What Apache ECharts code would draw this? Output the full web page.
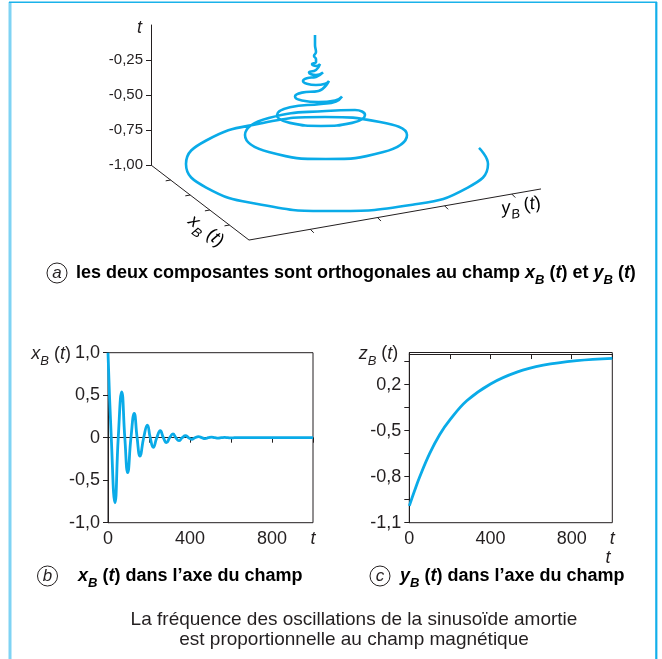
<!DOCTYPE html>
<html><head><meta charset="utf-8">
<script src="https://cdn.jsdelivr.net/npm/echarts@6/dist/echarts.min.js"></script>
<style>html,body{margin:0;padding:0;background:#fff}#c{width:662px;height:659px}</style>
</head><body><div id="c"></div>
<script>
// ---------- Panel a : projected helix (u = horizontal projected coordinate, t = vertical axis) ----------
const helixPoints = [
  [1.64,-0.071],[1.64,-0.143],[1.65,-0.193],[1.63,-0.221],[1.65,-0.243],
  [1.65,-0.264],[1.61,-0.279],[1.65,-0.293],[1.69,-0.279],
  [1.65,-0.321],[1.58,-0.339],[1.65,-0.357],[1.72,-0.339],
  [1.65,-0.371],[1.558,-0.380],[1.52,-0.400],[1.558,-0.420],[1.65,-0.429],[1.742,-0.420],[1.78,-0.400],
  [1.675,-0.471],[1.509,-0.483],[1.44,-0.511],[1.509,-0.539],[1.675,-0.550],[1.841,-0.539],[1.91,-0.511],[1.85,-0.546],
  [1.70,-0.564],[1.389,-0.587],[1.26,-0.643],[1.389,-0.699],[1.70,-0.721],[2.011,-0.699],[2.14,-0.643],[2.04,-0.607],
  [1.75,-0.614],[1.177,-0.664],[0.94,-0.786],[1.177,-0.907],[1.75,-0.957],[2.323,-0.907],[2.56,-0.786],[2.29,-0.693],
  [1.74,-0.657],[1.105,-0.702],[0.552,-0.825],[0.35,-0.993],[0.552,-1.161],[1.105,-1.284],[1.79,-1.329],[2.615,-1.284],[3.168,-1.161],[3.37,-0.993],[3.28,-0.878]
];
const tTickValues = [-1, -0.75, -0.5, -0.25];
const tTickLabels = ['-1,00', '-0,75', '-0,50', '-0,25'];
const floorOrigin = [0, -1];
const xBAxisEnd = [0.98, -1.536];
const yBAxisEnd = [3.90, -1.171];
const xBTickFractions = [0.2, 0.4, 0.6, 0.8];
const yBTickFractions = [0.21, 0.44, 0.67, 0.9];

// ---------- Panel b : x_B(t) ----------
const bTimes  = [0,16,34,50,67,82,96,112,128,142,156,174,192,206,221,238,255,270,285,301,317,331,346,362,378,393,408,424,441,457,473,489,505,521,537,553,569,585,601,617,633,650,1000];
const bValues = [1.0,0,-0.765,0,0.54,0,-0.41,0,0.287,0,-0.215,0,0.149,0,-0.113,0,0.082,0,-0.059,0,0.044,0,-0.035,0,0.024,0,-0.019,0,0.013,0,-0.01,0,0.007,0,-0.005,0,0.004,0,-0.003,0,0.002,0,0];
const bYTickValues = [-1, -0.5, 0, 0.5, 1];
const bYTickLabels = ['-1,0', '-0,5', '0', '0,5', '1,0'];
const xTickValues = [0, 200, 400, 600, 800, 1000];
const xLabelValues = [0, 400, 800, 1000];
const xLabelTexts = ['0', '400', '800', '{it|t}'];

// ---------- Panel c : z_B(t) ----------
const cTimes  = [0,25,50,100,150,200,283,400,530,660,825,1000];
const cValues = [-0.99,-0.895,-0.805,-0.65,-0.525,-0.43,-0.305,-0.195,-0.118,-0.073,-0.043,-0.028];
const cYTickValues = [-1.1,-0.95,-0.8,-0.65,-0.5,-0.35,-0.2,-0.05];
const cYLabelValues = [-1.1, -0.8, -0.5, -0.2];
const cYLabelTexts = ['-1,1', '-0,8', '-0,5', '0,2'];

// ---------- build ----------
const FONT = "'Liberation Sans', Arial, sans-serif";
const INK = '#231f20';
const CURVE = '#0aabe8';

function richSet(size, weight) {
  return {
    n: {fontSize: size, fontFamily: FONT, fontWeight: weight, color: INK, lineHeight: 28, verticalAlign: 'middle'},
    i: {fontSize: size, fontFamily: FONT, fontWeight: weight, fontStyle: 'italic', color: INK, lineHeight: 28, verticalAlign: 'middle'},
    s: {fontSize: Math.round(size * 0.72), fontFamily: FONT, fontWeight: weight, fontStyle: 'italic', color: INK, lineHeight: 28, verticalAlign: 'bottom'},
    it: {fontSize: size, fontFamily: FONT, fontStyle: 'italic', color: INK}
  };
}
const symName = (v) => '{i|' + v + '}{s|B}{n| (}{i|t}{n|)}';

function lerp(a, b, f) { return [a[0] + (b[0] - a[0]) * f, a[1] + (b[1] - a[1]) * f]; }
const xBTickDir = [-0.049, -0.006];
const yBTickDir = [0.035, -0.025];
const floorLines = [
  {coords: [[0, 0], floorOrigin]},
  {coords: [floorOrigin, xBAxisEnd]},
  {coords: [xBAxisEnd, yBAxisEnd]}
];
xBTickFractions.forEach(f => { const p = lerp(floorOrigin, xBAxisEnd, f); floorLines.push({coords: [p, [p[0] + xBTickDir[0], p[1] + xBTickDir[1]]]}); });
yBTickFractions.forEach(f => { const p = lerp(xBAxisEnd, yBAxisEnd, f); floorLines.push({coords: [p, [p[0] + yBTickDir[0], p[1] + yBTickDir[1]]]}); });

const labelStyle = {fontFamily: FONT, fontSize: 18, color: INK};
const axisLineStyle = {lineStyle: {color: INK, width: 1}};

const option = {
  animation: false,
  backgroundColor: '#fff',
  grid: [
    {left: 151, top: 25, width: 10, height: 140},
    {left: 151, top: 25, width: 420, height: 224},
    {left: 108, top: 352.7, width: 205, height: 170, show: true, borderColor: INK, borderWidth: 1},
    {left: 409.3, top: 352.5, width: 203, height: 170.2, show: true, borderColor: INK, borderWidth: 1}
  ],
  xAxis: [
    {gridIndex: 0, type: 'value', show: false, min: 0, max: 1},
    {gridIndex: 1, type: 'value', show: false, min: 0, max: 4.2},
    {gridIndex: 2, type: 'value', min: 0, max: 1000, splitLine: {show: false}, axisLine: axisLineStyle,
      axisTick: {customValues: xTickValues, length: 5, lineStyle: {color: INK}},
      axisLabel: {customValues: xLabelValues, margin: 7, ...labelStyle, rich: richSet(18, 'normal'),
        formatter: v => xLabelTexts[xLabelValues.indexOf(v)]}},
    {gridIndex: 3, type: 'value', min: 0, max: 1000, splitLine: {show: false}, axisLine: axisLineStyle,
      axisTick: {customValues: xTickValues, length: 5, lineStyle: {color: INK}},
      axisLabel: {customValues: xLabelValues, margin: 7, ...labelStyle, rich: richSet(18, 'normal'),
        formatter: v => xLabelTexts[xLabelValues.indexOf(v)]}}
  ],
  yAxis: [
    {gridIndex: 0, type: 'value', min: -1, max: 0, splitLine: {show: false}, axisLine: axisLineStyle,
      axisTick: {customValues: tTickValues, length: 5, lineStyle: {color: INK}},
      axisLabel: {customValues: tTickValues, margin: 8, fontFamily: FONT, fontSize: 15, color: INK,
        formatter: v => tTickLabels[tTickValues.indexOf(v)]},
      name: 't', nameLocation: 'end', nameGap: -3, nameMoveOverlap: false,
      nameTextStyle: {fontFamily: FONT, fontSize: 18, fontStyle: 'italic', color: INK, align: 'right', verticalAlign: 'middle', padding: [0, 9, 0, 0]}},
    {gridIndex: 1, type: 'value', show: false, min: -1.6, max: 0},
    {gridIndex: 2, type: 'value', min: -1, max: 1, splitLine: {show: false}, axisLine: axisLineStyle,
      axisTick: {customValues: bYTickValues, length: 5, lineStyle: {color: INK}},
      axisLabel: {customValues: bYTickValues, margin: 8, ...labelStyle,
        formatter: v => bYTickLabels[bYTickValues.indexOf(v)]},
      name: symName('x'), nameLocation: 'end', nameGap: -1, nameMoveOverlap: false,
      nameTextStyle: {align: 'right', verticalAlign: 'middle', padding: [0, 37, 0, 0], rich: richSet(18, 'normal')}},
    {gridIndex: 3, type: 'value', min: -1.1, max: 0.01, splitLine: {show: false}, axisLine: axisLineStyle,
      axisTick: {customValues: cYTickValues, length: 5, lineStyle: {color: INK}},
      axisLabel: {customValues: cYLabelValues, margin: 8, ...labelStyle,
        formatter: v => cYLabelTexts[cYLabelValues.indexOf(v)]},
      name: symName('z'), nameLocation: 'end', nameGap: -1, nameMoveOverlap: false,
      nameTextStyle: {align: 'right', verticalAlign: 'middle', padding: [0, 11, 0, 0], rich: richSet(18, 'normal')}}
  ],
  series: [
    {type: 'lines', coordinateSystem: 'cartesian2d', xAxisIndex: 1, yAxisIndex: 1, silent: true,
      lineStyle: {color: INK, width: 1, opacity: 1}, data: floorLines},
    {type: 'line', xAxisIndex: 1, yAxisIndex: 1, data: helixPoints, smooth: 0.5, symbol: 'none', silent: true,
      lineStyle: {color: CURVE, width: 2.6}},
    {type: 'line', xAxisIndex: 2, yAxisIndex: 2, data: bTimes.map((t, i) => [t, bValues[i]]), smooth: 0.5, symbol: 'none', silent: true,
      lineStyle: {color: CURVE, width: 2.8}},
    {type: 'line', xAxisIndex: 3, yAxisIndex: 3, data: cTimes.map((t, i) => [t, cValues[i]]), smooth: 0.4, symbol: 'none', silent: true,
      lineStyle: {color: CURVE, width: 2.8}}
  ],
  graphic: [
    {type: 'line', shape: {x1: 10, y1: 2, x2: 10, y2: 659}, style: {stroke: '#7fd3f4', lineWidth: 3}},
    {type: 'line', shape: {x1: 9, y1: 2.2, x2: 657, y2: 2.2}, style: {stroke: '#1ab2ea', lineWidth: 1.5}},
    {type: 'line', shape: {x1: 656.3, y1: 2, x2: 656.3, y2: 659}, style: {stroke: '#12afea', lineWidth: 2.2}},
    // second axis name under panel c
    {type: 'text', x: 608, y: 558, style: {text: 't', fontFamily: FONT, fontSize: 18, fontStyle: 'italic', fill: INK, align: 'center', verticalAlign: 'middle'}},
    // x_B / y_B floor axis names
    {type: 'text', x: 206, y: 231, rotation: -0.66, style: {text: symName('x'), rich: richSet(18, 'normal'), align: 'center', verticalAlign: 'middle'}},
    {type: 'text', x: 521, y: 206, rotation: 0.16, style: {text: symName('y'), rich: richSet(18, 'normal'), align: 'center', verticalAlign: 'middle'}},
    // caption a
    {type: 'circle', shape: {cx: 57, cy: 273, r: 10}, style: {fill: 'none', stroke: INK, lineWidth: 1}},
    {type: 'text', x: 57, y: 273, style: {text: 'a', fontFamily: FONT, fontSize: 17, fontStyle: 'italic', fill: INK, align: 'center', verticalAlign: 'middle'}},
    {type: 'text', x: 76, y: 273, style: {text: '{n|les deux composantes sont orthogonales au champ }' + symName('x') + '{n| et }' + symName('y'), rich: richSet(18, 'bold'), align: 'left', verticalAlign: 'middle'}},
    // caption b
    {type: 'circle', shape: {cx: 47.5, cy: 576, r: 10}, style: {fill: 'none', stroke: INK, lineWidth: 1}},
    {type: 'text', x: 47.5, y: 576, style: {text: 'b', fontFamily: FONT, fontSize: 17, fontStyle: 'italic', fill: INK, align: 'center', verticalAlign: 'middle'}},
    {type: 'text', x: 78, y: 576, style: {text: symName('x') + '{n| dans l\u2019axe du champ}', rich: richSet(18, 'bold'), align: 'left', verticalAlign: 'middle'}},
    // caption c
    {type: 'circle', shape: {cx: 380, cy: 576, r: 10}, style: {fill: 'none', stroke: INK, lineWidth: 1}},
    {type: 'text', x: 380, y: 576, style: {text: 'c', fontFamily: FONT, fontSize: 17, fontStyle: 'italic', fill: INK, align: 'center', verticalAlign: 'middle'}},
    {type: 'text', x: 400, y: 576, style: {text: symName('y') + '{n| dans l\u2019axe du champ}', rich: richSet(18, 'bold'), align: 'left', verticalAlign: 'middle'}},
    // bottom note
    {type: 'text', x: 354, y: 630, style: {text: 'La fréquence des oscillations de la sinusoïde amortie\nest proportionnelle au champ magnétique', fontFamily: FONT, fontSize: 19, lineHeight: 20, fill: INK, align: 'center', verticalAlign: 'middle'}}
  ]
};
const chart = echarts.init(document.getElementById('c'), null, {renderer: 'canvas', width: 662, height: 659});
chart.setOption(option);
</script>
</body></html>
